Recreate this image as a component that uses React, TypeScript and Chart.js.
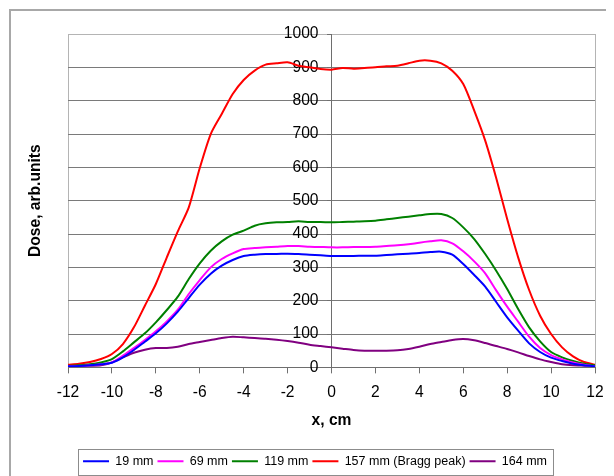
import { useEffect, useRef } from "react";
import { Chart, registerables } from "chart.js";

Chart.register(...registerables);

// x position, cm
const xPositions = [
  -12, -11.5, -11, -10.5, -10, -9.5, -9, -8.5, -8, -7.5, -7, -6.5, -6, -5.5, -5, -4.5, -4,
  -3.5, -3, -2.5, -2, -1.5, -1, -0.5, 0, 0.5, 1, 1.5, 2, 2.5, 3, 3.5, 4, 4.5, 5, 5.5, 6,
  6.5, 7, 7.5, 8, 8.5, 9, 9.5, 10, 10.5, 11, 11.5, 12,
];

const dose19mm = [
  3, 4, 6, 9, 14, 30, 52, 77, 102, 132, 167, 208, 248, 281, 305, 322, 334,
  338, 340, 340, 341, 340, 338, 336, 334, 334, 334, 335, 335, 337, 339, 341, 343, 346, 347, 338, 310,
  277, 242, 196, 150, 110, 72, 46, 29, 19, 11, 6, 3,
];

const dose69mm = [
  3, 4, 6, 9, 15, 35, 58, 82, 108, 138, 173, 220, 262, 300, 325, 342, 355,
  358, 360, 362, 364, 364, 362, 361, 360, 360, 361, 361, 362, 364, 366, 369, 374, 378, 381, 372, 348,
  318, 282, 231, 182, 137, 92, 58, 37, 24, 15, 8, 3,
];

const dose119mm = [
  4, 6, 9, 15, 25, 48, 75, 102, 135, 172, 212, 265, 312, 350, 378, 398, 410,
  425, 432, 435, 436, 438, 436, 436, 435, 436, 437, 438, 440, 444, 448, 452, 456, 460, 460, 448, 420,
  385, 340, 290, 235, 175, 120, 78, 46, 30, 19, 11, 6,
];

const dose157mm = [
  8, 11, 16, 25, 40, 70, 120, 185, 250, 330, 408, 480, 598, 700, 760, 820, 862,
  890, 908, 912, 915, 905, 900, 895, 893, 898, 896, 898, 900, 903, 905, 912, 920, 920, 912, 890, 850,
  770, 680, 568, 445, 330, 232, 155, 100, 60, 33, 16, 8,
];

const dose164mm = [
  4, 4, 5, 6, 15, 30, 44, 53, 58, 58, 62, 70, 76, 82, 88, 92, 90,
  88, 86, 83, 79, 74, 68, 64, 60, 56, 52, 50, 50, 50, 51, 55, 62, 70, 76, 82, 85,
  81, 73, 64, 55, 45, 34, 24, 16, 9, 6, 5, 4,
];

const seriesLabels = ["19 mm", "69 mm", "119 mm", "157 mm (Bragg peak)", "164 mm"];
const seriesValues = [dose19mm, dose69mm, dose119mm, dose157mm, dose164mm];
const seriesColors = ["#0000FF", "#FF00FF", "#008000", "#FF0000", "#800080"];

const xTickValues = [-12, -10, -8, -6, -4, -2, 0, 2, 4, 6, 8, 10, 12];
const yTickValues = [0, 100, 200, 300, 400, 500, 600, 700, 800, 900, 1000];

const xTitle = "x, cm";
const yTitle = "Dose, arb.units";

const FONT = "'Liberation Sans', Arial, Helvetica, sans-serif";

const legendBorder = {
  id: "legendBorder",
  afterDraw(chart: any) {
    const lg = chart.legend;
    if (!lg || !lg.legendHitBoxes || !lg.legendHitBoxes.length) return;
    const hb = lg.legendHitBoxes;
    const left = Math.min(...hb.map((h: any) => h.left)) - 5;
    const right = Math.max(...hb.map((h: any) => h.left + h.width)) + 6;
    const cy = hb[0].top + hb[0].height / 2;
    const ctx = chart.ctx;
    ctx.save();
    ctx.strokeStyle = "#8c8c8c";
    ctx.lineWidth = 1;
    ctx.strokeRect(Math.round(left) + 0.5, Math.round(cy - 12.4) + 0.5, Math.round(right - left), 26);
    ctx.restore();
  },
};

export default function App() {
  const ref = useRef<HTMLCanvasElement | null>(null);

  useEffect(() => {
    if (!ref.current) return;
    const chart = new Chart(ref.current, {
      type: "line",
      data: {
        datasets: seriesLabels.map((label, i) => ({
          label,
          data: xPositions.map((x, j) => ({ x, y: seriesValues[i][j] })),
          borderColor: seriesColors[i],
          backgroundColor: seriesColors[i],
          borderWidth: 2,
          pointRadius: 0,
          tension: 0.25,
          fill: false,
        })),
      },
      plugins: [legendBorder],
      options: {
        responsive: false,
        animation: false,
        events: [],
        layout: { padding: { left: 24, right: 24, top: 23, bottom: 1.5 } },
        plugins: {
          tooltip: { enabled: false },
          legend: {
            display: true,
            position: "bottom",
            labels: {
              usePointStyle: true,
              pointStyle: "line",
              pointStyleWidth: 26,
              boxHeight: 12,
              padding: 4,
              color: "#000",
              font: { family: FONT, size: 12.5 },
            },
          },
        },
        scales: {
          x: {
            type: "linear",
            min: -12,
            max: 12,
            afterBuildTicks: (s: any) => {
              s.ticks = xTickValues.map((v) => ({ value: v }));
            },
            grid: {
              color: (c: any) =>
                c.tick && (c.tick.value === -12 || c.tick.value === 12) ? "#b4b4b4" : "rgba(0,0,0,0)",
              tickColor: "#707070",
              tickLength: 6,
              lineWidth: 1,
            },
            border: { display: true, color: "#6e6e6e", width: 1 },
            ticks: {
              color: "#000",
              padding: 10,
              maxRotation: 0,
              font: { family: FONT, size: 15.6 },
            },
            title: {
              display: true,
              text: xTitle,
              color: "#000",
              padding: { top: -1, bottom: 21.2 },
              font: { family: FONT, size: 15.6, weight: "bold" },
            },
          },
          y: {
            type: "linear",
            position: { x: 0 } as any,
            min: 0,
            max: 1000,
            afterBuildTicks: (s: any) => {
              s.ticks = yTickValues.map((v) => ({ value: v }));
            },
            grid: {
              color: (c: any) => {
                const v = c.tick ? c.tick.value : -1;
                if (v === 0) return "rgba(0,0,0,0)";
                if (v === 1000) return "#b4b4b4";
                return "#7a7a7a";
              },
              tickColor: "#707070",
              tickLength: 4,
              lineWidth: 1,
            },
            border: { display: true, color: "#6e6e6e", width: 1 },
            ticks: {
              color: "#000",
              padding: 10,
              font: { family: FONT, size: 15.6 },
              callback: (v: any) => String(v) + "   ",
            },
          },
          yTitleAxis: {
            type: "linear",
            position: "left",
            display: true,
            grid: { display: false },
            border: { display: false },
            ticks: { display: false },
            title: {
              display: true,
              text: yTitle,
              color: "#000",
              padding: { top: -9, bottom: 15.3 },
              font: { family: FONT, size: 15.6, weight: "bold" },
            },
          },
        },
      },
    } as any);
    return () => chart.destroy();
  }, []);

  return (
    <div>
      <style>{"html,body{overflow:hidden}"}</style>
      <div
        style={{
          marginLeft: 1,
          marginTop: 1,
          borderLeft: "2px solid #a8a8a8",
          borderTop: "2px solid #a8a8a8",
          width: 620,
          height: 480,
          background: "#fff",
        }}
      >
        <canvas ref={ref} width={608} height={468} style={{ display: "block" }} />
      </div>
    </div>
  );
}
